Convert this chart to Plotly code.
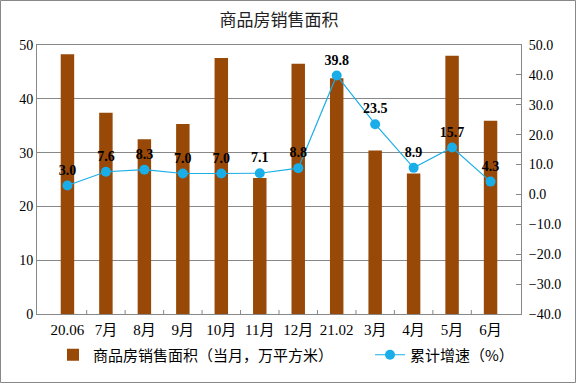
import plotly.graph_objects as go

categories = ["20.06", "7月", "8月", "9月", "10月", "11月", "12月", "21.02", "3月", "4月", "5月", "6月"]
area = [48.3, 37.4, 32.5, 35.3, 47.6, 25.3, 46.5, 43.8, 30.4, 26.1, 48.0, 35.9]
growth = [3.0, 7.6, 8.3, 7.0, 7.0, 7.1, 8.8, 39.8, 23.5, 8.9, 15.7, 4.3]
growth_labels = [f"{v:.1f}" for v in growth]

SERIF = "Liberation Serif, Times New Roman, Noto Sans CJK SC"
CJK = "Noto Sans CJK SC, Liberation Serif"

fig = go.Figure()
fig.add_trace(go.Bar(
    x=categories, y=area, name="商品房销售面积（当月，万平方米）",
    marker=dict(color="#984807", line=dict(width=0)),
    yaxis="y", legend="legend",
))
fig.add_trace(go.Scatter(
    x=categories, y=growth, name="累计增速（%）",
    mode="lines+markers+text",
    line=dict(color="#1AAEE8", width=1.2),
    marker=dict(color="#1AAEE8", size=10),
    text=growth_labels, textposition="top center",
    textfont=dict(family=SERIF, size=14, color="#000000", weight="bold"),
    yaxis="y2", cliponaxis=False, legend="legend2",
))

W, H = 576, 384
L, R, T, B = 37, 55, 45, 70
pw, ph = W - L - R, H - T - B

leg_common = dict(orientation="h", xref="container", yref="container",
                  yanchor="middle", y=(H - 355) / H,
                  font=dict(family=CJK, size=15, color="#000000"),
                  itemwidth=30, bgcolor="rgba(0,0,0,0)")

fig.update_layout(
    width=W, height=H,
    margin=dict(l=L, r=R, t=T, b=B, pad=0, autoexpand=False),
    paper_bgcolor="white", plot_bgcolor="white",
    title=dict(text="商品房销售面积", x=0.5, xanchor="center", xref="paper",
               y=1 - 20 / H, yanchor="middle",
               font=dict(family=CJK, size=17, color="#222222")),
    bargap=0.65,
    showlegend=True,
    legend=dict(x=53 / W, xanchor="left", **leg_common),
    legend2=dict(x=370 / W, xanchor="left", **leg_common),
    xaxis=dict(
        type="category", showline=True, linecolor="#888888", linewidth=1, mirror=True,
        ticks="", showgrid=False, ticklabelstandoff=2,
        tickfont=dict(family=SERIF, size=15, color="#000000"),
    ),
    yaxis=dict(
        range=[0, 50], dtick=10, showgrid=True, gridcolor="#888888", gridwidth=1,
        showline=True, linecolor="#888888", linewidth=1, ticks="",
        tickfont=dict(family=SERIF, size=14, color="#000000"), zeroline=False,
    ),
    yaxis2=dict(
        range=[-40, 50], dtick=10, overlaying="y", side="right", showgrid=False,
        showline=True, linecolor="#888888", linewidth=1,
        ticks="inside", ticklen=5, tickcolor="#888888",
        tickformat=".1f", zeroline=False, ticklabelstandoff=4,
        tickfont=dict(family=SERIF, size=14, color="#000000"),
    ),
    shapes=[
        dict(type="rect", xref="paper", yref="paper",
             x0=(0.5 - L) / pw, x1=(W - 0.5 - L) / pw,
             y0=(H - B - (H - 1.5)) / ph, y1=(H - B - 0.5) / ph,
             line=dict(color="#888888", width=1), fillcolor="rgba(0,0,0,0)", layer="below"),
    ] + [
        dict(type="line", xref="x", yref="paper", x0=i + 0.5, x1=i + 0.5, y0=0, y1=4 / ph,
             line=dict(color="#888888", width=1))
        for i in range(len(categories) - 1)
    ],
)

fig.write_html(
    "out.html",
    config={"displayModeBar": False},
    post_script="document.body.style.margin='0';document.body.style.padding='0';"
                "document.documentElement.style.overflow='hidden';",
)
